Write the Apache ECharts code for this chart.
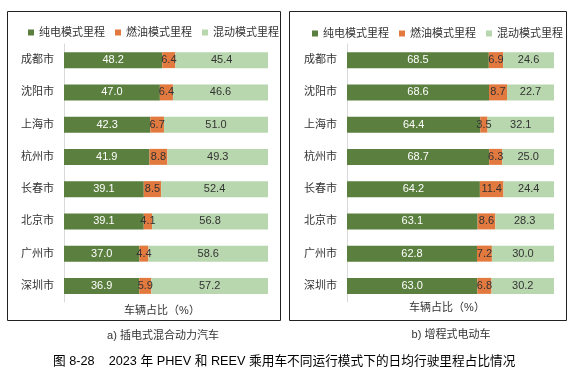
<!DOCTYPE html>
<html><head><meta charset="utf-8">
<script src="https://cdn.jsdelivr.net/npm/echarts@6/dist/echarts.min.js"></script>
<style>html,body{margin:0;padding:0;background:#fff}#c{width:577px;height:373px}</style>
</head><body><div id="c"></div>
<script>
const cities = ['成都市','沈阳市','上海市','杭州市','长春市','北京市','广州市','深圳市'];
const seriesNames = ['纯电模式里程','燃油模式里程','混动模式里程'];
// a) PHEV
const phevElectric = [48.2, 47.0, 42.3, 41.9, 39.1, 39.1, 37.0, 36.9];
const phevFuel     = [6.4, 6.4, 6.7, 8.8, 8.5, 4.1, 4.4, 5.9];
const phevHybrid   = [45.4, 46.6, 51.0, 49.3, 52.4, 56.8, 58.6, 57.2];
// b) REEV
const reevElectric = [68.5, 68.6, 64.4, 68.7, 64.2, 63.1, 62.8, 63.0];
const reevFuel     = [6.9, 8.7, 3.5, 6.3, 11.4, 8.6, 7.2, 6.8];
const reevHybrid   = [24.6, 22.7, 32.1, 25.0, 24.4, 28.3, 30.0, 30.2];

const colors = ['#5a7f3e', '#e27a3f', '#b9d7af'];
const labelColors = ['#ffffff', '#333333', '#333333'];
const FONT = '"Liberation Sans", Arial, "Noto Sans CJK SC", sans-serif';

const chart = echarts.init(document.getElementById('c'), null, {renderer: 'canvas'});

function mkSeries(idx, datasets) {
  return datasets.map((d, i) => ({
    name: seriesNames[i], type: 'bar', stack: 's' + idx,
    xAxisIndex: idx, yAxisIndex: idx, data: d, barWidth: 16,
    itemStyle: {color: colors[i]},
    label: {show: true, position: 'inside', color: labelColors[i], fontSize: 11, fontFamily: FONT,
      formatter: p => p.value.toFixed(1)},
    emphasis: {disabled: true}
  }));
}

const yAxisBase = (gi) => ({
  type: 'category', gridIndex: gi, data: cities, inverse: true,
  axisLine: {show: true, lineStyle: {color: '#d9d9d9', width: 1}},
  axisTick: {show: false},
  axisLabel: {color: '#333', fontSize: 11, margin: 10, fontFamily: FONT}
});
const xAxisBase = (gi) => ({
  type: 'value', gridIndex: gi, min: 0, max: 100, show: false
});
const legendBase = (left, top) => ({
  left: left, top: top, padding: 0, itemWidth: 6, itemHeight: 6, itemGap: 10,
  icon: 'rect', data: seriesNames,
  textStyle: {color: '#333', fontSize: 11, fontFamily: FONT}, selectedMode: false
});

chart.setOption({
  animation: false,
  grid: [
    {left: 64, width: 204, top: 44, height: 258},
    {left: 347, width: 207, top: 44, height: 258}
  ],
  xAxis: [xAxisBase(0), xAxisBase(1)],
  yAxis: [yAxisBase(0), yAxisBase(1)],
  legend: [legendBase(28, 27), legendBase(312, 28)],
  series: [
    ...mkSeries(0, [phevElectric, phevFuel, phevHybrid]),
    ...mkSeries(1, [reevElectric, reevFuel, reevHybrid])
  ],
  graphic: [
    {type: 'rect', shape: {x: 7.5, y: 11.5, width: 273, height: 309}, style: {fill: 'none', stroke: '#222', lineWidth: 1}, silent: true},
    {type: 'rect', shape: {x: 289.5, y: 11.5, width: 277, height: 309}, style: {fill: 'none', stroke: '#222', lineWidth: 1}, silent: true},
    {type: 'text', x: 162, y: 311, style: {text: '车辆占比（%）', fill: '#333', font: '11px ' + FONT, textAlign: 'center', textVerticalAlign: 'middle'}, silent: true},
    {type: 'text', x: 447, y: 308, style: {text: '车辆占比（%）', fill: '#333', font: '11px ' + FONT, textAlign: 'center', textVerticalAlign: 'middle'}, silent: true},
    {type: 'text', x: 163, y: 336, style: {text: 'a) 插电式混合动力汽车', fill: '#333', font: '11px ' + FONT, textAlign: 'center', textVerticalAlign: 'middle'}, silent: true},
    {type: 'text', x: 451, y: 335, style: {text: 'b) 增程式电动车', fill: '#333', font: '11px ' + FONT, textAlign: 'center', textVerticalAlign: 'middle'}, silent: true},
    {type: 'text', x: 53, y: 361, style: {text: '图 8-28    2023 年 PHEV 和 REEV 乘用车不同运行模式下的日均行驶里程占比情况', fill: '#000', font: '12.7px ' + FONT, textAlign: 'left', textVerticalAlign: 'middle'}, silent: true}
  ]
});
</script></body></html>
